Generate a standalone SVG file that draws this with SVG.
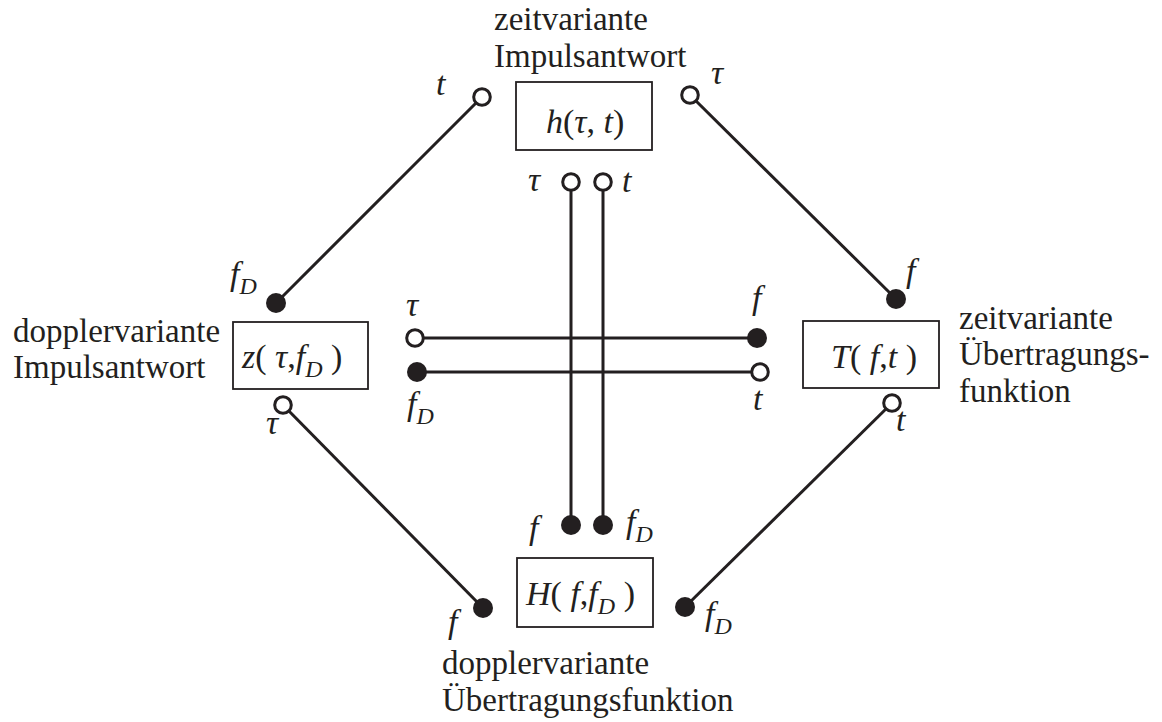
<svg xmlns="http://www.w3.org/2000/svg" width="1162" height="722" viewBox="0 0 1162 722">
<style>
.t{font-family:"Liberation Serif","Times New Roman",serif;font-size:33px;fill:#231f20}
.m{font-family:"Liberation Serif","Times New Roman",serif;font-size:34px;font-style:italic;fill:#231f20}
.s{font-size:24px}
.box{fill:#fff;stroke:#231f20;stroke-width:1.8}
.ln{stroke:#231f20;stroke-width:3;fill:none}
.o{fill:#fff;stroke:#231f20;stroke-width:3}
.f{fill:#231f20}
</style>
<rect width="1162" height="722" fill="#fff"/>
<g id="connectors">
<line class="ln" x1="482" y1="97" x2="276" y2="303"/>
<line class="ln" x1="690" y1="95" x2="896" y2="299"/>
<line class="ln" x1="283" y1="405" x2="483" y2="608"/>
<line class="ln" x1="892" y1="403" x2="685" y2="607"/>
<line class="ln" x1="571" y1="182" x2="571" y2="525"/>
<line class="ln" x1="603" y1="182" x2="603" y2="525"/>
<line class="ln" x1="415" y1="338" x2="757" y2="338"/>
<line class="ln" x1="417" y1="372" x2="760" y2="372"/>
</g>
<g id="terminals">
<circle class="o" cx="482" cy="97" r="8.3"/>
<circle class="f" cx="276" cy="303" r="10"/>
<circle class="o" cx="690" cy="95" r="8.3"/>
<circle class="f" cx="896" cy="299" r="10"/>
<circle class="o" cx="283" cy="405" r="8.3"/>
<circle class="f" cx="483" cy="608" r="10"/>
<circle class="o" cx="892" cy="403" r="8.3"/>
<circle class="f" cx="685" cy="607" r="10"/>
<circle class="o" cx="571" cy="182" r="8.3"/>
<circle class="o" cx="603" cy="182" r="8.3"/>
<circle class="f" cx="571" cy="525" r="10"/>
<circle class="f" cx="603" cy="525" r="10"/>
<circle class="o" cx="415" cy="338" r="8.3"/>
<circle class="f" cx="757" cy="338" r="10"/>
<circle class="f" cx="417" cy="372" r="10"/>
<circle class="o" cx="760" cy="372" r="8.3"/>
</g>
<g id="terminal-labels">
<text class="m" x="436" y="95">t</text>
<text class="m" x="711" y="84">τ</text>
<text class="m" x="528" y="191">τ</text>
<text class="m" x="622" y="192">t</text>
<text class="m" x="230" y="285">f<tspan class="s" dy="9">D</tspan></text>
<text class="m" x="266" y="434">τ</text>
<text class="m" x="906" y="282">f</text>
<text class="m" x="896" y="431">t</text>
<text class="m" x="448" y="633">f</text>
<text class="m" x="705" y="625">f<tspan class="s" dy="9">D</tspan></text>
<text class="m" x="529" y="539">f</text>
<text class="m" x="626" y="533">f<tspan class="s" dy="9">D</tspan></text>
<text class="m" x="406" y="316">τ</text>
<text class="m" x="407" y="415">f<tspan class="s" dy="9">D</tspan></text>
<text class="m" x="752" y="309">f</text>
<text class="m" x="753" y="410">t</text>
</g>
<g id="node-h">
<rect class="box" x="516" y="82" width="136" height="68"/>
<text class="m" x="546" y="133">h<tspan font-style="normal">(</tspan>τ<tspan font-style="normal">, </tspan>t<tspan font-style="normal">)</tspan></text>
<text class="t" x="494" y="30">zeitvariante</text>
<text class="t" x="494" y="67">Impulsantwort</text>
</g>
<g id="node-z">
<rect class="box" x="233" y="322" width="135" height="67"/>
<text class="m" x="242" y="368">z<tspan font-style="normal">( </tspan>τ<tspan font-style="normal">,</tspan>f<tspan class="s" dy="9">D</tspan><tspan font-style="normal" dy="-9"> )</tspan></text>
<text class="t" x="13" y="342">dopplervariante</text>
<text class="t" x="13" y="378">Impulsantwort</text>
</g>
<g id="node-T">
<rect class="box" x="803" y="321" width="136" height="67"/>
<text class="m" x="831" y="368">T<tspan font-style="normal">( </tspan>f<tspan font-style="normal">,</tspan>t<tspan font-style="normal"> )</tspan></text>
<text class="t" x="959" y="329">zeitvariante</text>
<text class="t" x="959" y="365">Übertragungs-</text>
<text class="t" x="959" y="402">funktion</text>
</g>
<g id="node-H">
<rect class="box" x="517" y="558" width="136" height="69"/>
<text class="m" x="526" y="605">H<tspan font-style="normal">( </tspan>f<tspan font-style="normal">,</tspan>f<tspan class="s" dy="9">D</tspan><tspan font-style="normal" dy="-9"> )</tspan></text>
<text class="t" x="442" y="674">dopplervariante</text>
<text class="t" x="442" y="711">Übertragungsfunktion</text>
</g>
</svg>
